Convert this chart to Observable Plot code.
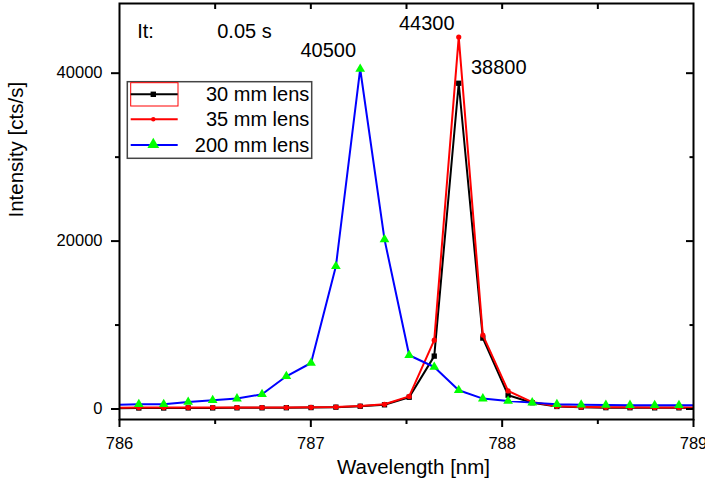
<!DOCTYPE html>
<html>
<head>
<meta charset="utf-8">
<script src="https://cdn.jsdelivr.net/npm/d3@7"></script>
<script src="https://cdn.jsdelivr.net/npm/@observablehq/plot@0.6"></script>
<style>
  html, body { margin: 0; padding: 0; background: white; }
</style>
</head>
<body>
<div id="chart"></div>
<script>
// Wavelength grid (nm)
const wavelength = [785.972, 786.101, 786.231, 786.359, 786.487, 786.614, 786.745, 786.872, 787.001, 787.131, 787.258, 787.385, 787.514, 787.645, 787.773, 787.899, 788.031, 788.157, 788.286, 788.413, 788.542, 788.668, 788.797, 788.924, 789.052];
// Intensity [cts/s]
const lens30 = [100, 120, 120, 130, 130, 140, 140, 150, 170, 220, 330, 500, 1400, 6300, 38800, 8450, 1650, 750, 300, 220, 160, 150, 140, 140, 130];
const lens35 = [150, 170, 170, 170, 180, 180, 180, 180, 200, 240, 360, 560, 1500, 8200, 44300, 8800, 2150, 830, 320, 240, 200, 200, 180, 180, 170];
const lens200 = [480, 560, 560, 830, 1040, 1240, 1750, 3900, 5480, 17000, 40500, 20200, 6400, 5000, 2230, 1240, 950, 760, 560, 500, 480, 460, 450, 440, 430];

const seriesNames = ["30 mm lens", "35 mm lens", "200 mm lens"];
const xMajor = [786, 787, 788, 789];
const xMinor = [786.5, 787.5, 788.5];
const xTop = [786.5, 787, 787.5, 788, 788.5];
const yMajor = [0, 20000, 40000];
const yMinor = [10000, 30000];
const peaks = [
  {x: 787.258, y: 40500, label: "40500"},
  {x: 787.773, y: 44300, label: "44300"},
  {x: 787.773, y: 38800, label: "38800"}
];

const toRows = (ys) => wavelength.map((x, i) => ({x, y: ys[i]}));
const d30 = toRows(lens30), d35 = toRows(lens35), d200 = toRows(lens200);

const W = 705, H = 490, mL = 119, mR = 12, mT = 3, mB = 71;
const plotW = W - mL - mR, plotH = H - mT - mB;
const font = "'Liberation Sans', Arial, sans-serif";

const chart = Plot.plot({
  width: W, height: H,
  marginLeft: mL, marginRight: mR, marginTop: mT, marginBottom: mB,
  style: {fontFamily: font, background: "white", color: "black", overflow: "visible"},
  x: {domain: [786, 789]},
  y: {domain: [-1250, 48300]},
  marks: [
    // lines & markers
    Plot.line(d30, {x: "x", y: "y", stroke: "black", strokeWidth: 2, clip: true}),
    Plot.dot(d30, {x: "x", y: "y", symbol: "square", r: 3, fill: "black", clip: true}),
    Plot.line(d35, {x: "x", y: "y", stroke: "#ff0000", strokeWidth: 2, clip: true}),
    Plot.dot(d35, {x: "x", y: "y", r: 2.6, fill: "#ff0000", clip: true}),
    Plot.line(d200, {x: "x", y: "y", stroke: "#0000ff", strokeWidth: 2, clip: true}),
    Plot.dot(d200, {x: "x", y: "y", symbol: "triangle", r: 3.6, fill: "#00ff00", clip: true}),
    // axes
    Plot.axisX({ticks: xMajor, tickSize: 8, tickPadding: 10, fontSize: 16.5, strokeWidth: 2, label: null, tickFormat: d => String(d)}),
    Plot.axisX({ticks: xMinor, tickSize: 5, strokeWidth: 2, label: null, tickFormat: () => ""}),
    Plot.axisY({ticks: yMajor, tickSize: 8, tickPadding: 9, fontSize: 16.5, strokeWidth: 2, label: null, tickFormat: d => String(d)}),
    Plot.axisY({ticks: yMinor, tickSize: 4, strokeWidth: 2, label: null, tickFormat: () => ""}),
    // inward ticks on top and right
    Plot.ruleX(xTop, {insetBottom: plotH - 6, strokeWidth: 2}),
    Plot.ruleY(yMajor, {insetLeft: plotW - 7, strokeWidth: 2}),
    Plot.ruleY(yMinor, {insetLeft: plotW - 3.5, strokeWidth: 2}),
    Plot.frame({strokeWidth: 2}),
    // axis titles
    Plot.text(["Wavelength [nm]"], {frameAnchor: "bottom", dx: 7, dy: 54.6, fontSize: 20.5}),
    Plot.text(["Intensity [cts/s]"], {frameAnchor: "left", rotate: -90, dx: -102.6, dy: 6, fontSize: 20.5}),
    // annotations
    Plot.text(["It:"], {frameAnchor: "top-left", dx: 17.7, dy: 20, textAnchor: "start", fontSize: 20}),
    Plot.text(["0.05 s"], {frameAnchor: "top-left", dx: 97.7, dy: 20, textAnchor: "start", fontSize: 20}),
    Plot.text([peaks[0]], {x: "x", y: "y", text: "label", dx: -32, dy: -18, fontSize: 20}),
    Plot.text([peaks[1]], {x: "x", y: "y", text: "label", dx: -32, dy: -13, fontSize: 20}),
    Plot.text([peaks[2]], {x: "x", y: "y", text: "label", dx: 40, dy: -16, fontSize: 20})
  ]
});

// Legend box
const svg = d3.select(chart);
const lg = svg.append("g").attr("font-family", font).attr("font-size", 20);
lg.append("rect").attr("x", 127.3).attr("y", 81.7).attr("width", 184.4).attr("height", 76.6)
  .attr("fill", "white").attr("stroke", "#444").attr("stroke-width", 1.5);
const rowsY = [94.3, 119.3, 145];
const colors = ["black", "#ff0000", "#0000ff"];
// red selection box around first sample
lg.append("rect").attr("x", 130.7).attr("y", 82.7).attr("width", 47.3).attr("height", 23.3)
  .attr("fill", "none").attr("stroke", "#ff0000").attr("stroke-width", 1);
seriesNames.forEach((name, i) => {
  const y = rowsY[i];
  lg.append("line").attr("x1", 130.7).attr("x2", 177.7).attr("y1", y).attr("y2", y)
    .attr("stroke", colors[i]).attr("stroke-width", 2);
  if (i === 0) {
    lg.append("rect").attr("x", 153.3 - 2.7).attr("y", y - 2.7).attr("width", 5.4).attr("height", 5.4).attr("fill", "black");
  } else if (i === 1) {
    lg.append("circle").attr("cx", 153.3).attr("cy", y).attr("r", 2.2).attr("fill", "#ff0000");
  } else {
    lg.append("path").attr("d", d3.symbol(d3.symbolTriangle, 60)()).attr("transform", `translate(153.3,${y - 0.5})`).attr("fill", "#00ff00");
  }
  lg.append("text").attr("x", 309.3).attr("y", y + 7).attr("text-anchor", "end").attr("fill", "black").text(name);
});

document.getElementById("chart").appendChild(chart);
</script>
</body>
</html>
